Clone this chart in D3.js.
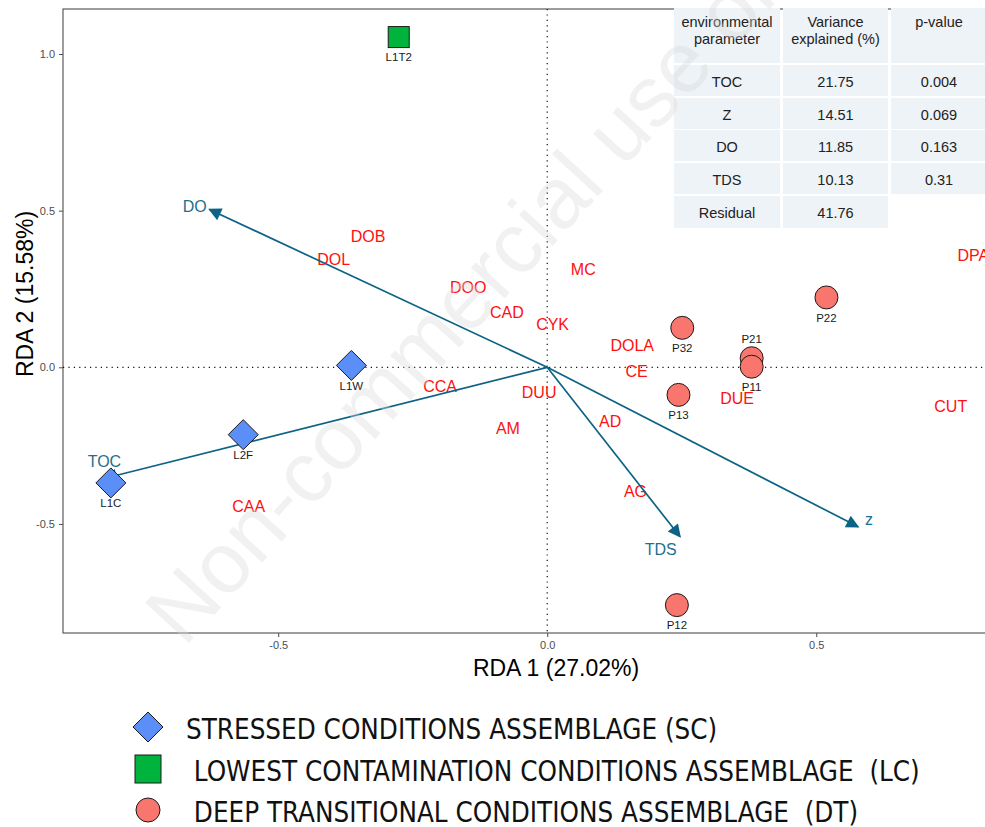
<!DOCTYPE html>
<html>
<head>
<meta charset="utf-8">
<script src="https://cdn.jsdelivr.net/npm/d3@7"></script>
<style>
  body { margin: 0; background: #fff; }
  svg { display: block; }
</style>
</head>
<body>
<div id="chart"></div>
<script>
(function() {

  // site scores (RDA1, RDA2)
  var siteNames  = ["L1T2", "L1W", "L2F", "L1C", "P32", "P22", "P21", "P11", "P13", "P12"];
  var siteGroups = ["LC", "SC", "SC", "SC", "DT", "DT", "DT", "DT", "DT", "DT"];
  var siteX = [-0.276, -0.364, -0.565, -0.811, 0.251, 0.519, 0.380, 0.380, 0.244, 0.241];
  var siteY = [1.054, 0.006, -0.215, -0.369, 0.126, 0.223, 0.029, 0.002, -0.088, -0.759];
  var siteLabelAbove = ["P21"];

  // species scores
  var speciesNames = ["DOB", "DOL", "DOO", "CAD", "CYK", "MC", "DOLA", "CE", "CCA", "DUU",
                      "DUE", "CUT", "AD", "AM", "AG", "CAA", "DPA"];
  var speciesX = [-0.333, -0.397, -0.147, -0.075, 0.010, 0.067, 0.158, 0.166, -0.199, -0.015,
                  0.353, 0.750, 0.117, -0.073, 0.164, -0.555, 0.792];
  var speciesY = [0.417, 0.345, 0.257, 0.177, 0.138, 0.314, 0.069, -0.014, -0.059, -0.081,
                  -0.099, -0.123, -0.171, -0.195, -0.397, -0.445, 0.358];

  // environmental vectors
  var envNames = ["DO", "TOC", "TDS", "z"];
  var envX = [-0.628, -0.822, 0.247, 0.578];
  var envY = [0.504, -0.354, -0.541, -0.509];
  var envLabelX = [-0.655, -0.823, 0.211, 0.598];
  var envLabelY = [0.513, -0.299, -0.581, -0.484];

  // table of explained variance
  var tableHeader = [["environmental", "parameter"], ["Variance", "explained (%)"], ["p-value"]];
  var tableParams = ["TOC", "Z", "DO", "TDS", "Residual"];
  var tableVariance = ["21.75", "14.51", "11.85", "10.13", "41.76"];
  var tablePvalue = ["0.004", "0.069", "0.163", "0.31", ""];

  var xTicks = [-0.5, 0.0, 0.5];
  var yTicks = [-0.5, 0.0, 0.5, 1.0];

  var legendLabels = ["STRESSED CONDITIONS ASSEMBLAGE (SC)",
                      " LOWEST CONTAMINATION CONDITIONS ASSEMBLAGE  (LC)",
                      " DEEP TRANSITIONAL CONDITIONS ASSEMBLAGE  (DT)"];
  var legendGroups = ["SC", "LC", "DT"];

  var fills = { SC: "#5b8ff7", LC: "#00b33c", DT: "#f8766d" };
  var arrowCol = "#0d6385";
  var fontMain = "'Liberation Sans', Arial, Helvetica, sans-serif";

  var W = 985, H = 827;
  var svg = d3.select("#chart").append("svg")
    .attr("width", W).attr("height", H)
    .style("font-family", fontMain);

  var xScale = d3.scaleLinear().domain([-0.9, 0.823]).range([63, 990]);
  var yScale = d3.scaleLinear().domain([-0.848, 1.1436]).range([633, 9]);

  // panel border
  svg.append("rect")
    .attr("x", 63).attr("y", 9)
    .attr("width", 990 - 63).attr("height", 633 - 9)
    .attr("fill", "none").attr("stroke", "#4d4d4d").attr("stroke-width", 1.1);

  // axes (ggplot style hyphen minus)
  var fmt = function(d) { return d3.format(".1f")(d).replace("\u2212", "-"); };
  var xAxis = svg.append("g").attr("transform", "translate(0,633)")
    .call(d3.axisBottom(xScale).tickValues(xTicks).tickSize(4).tickPadding(4).tickFormat(fmt));
  var yAxis = svg.append("g").attr("transform", "translate(63,0)")
    .call(d3.axisLeft(yScale).tickValues(yTicks).tickSize(4).tickPadding(4).tickFormat(fmt));
  [xAxis, yAxis].forEach(function(a) {
    a.select(".domain").remove();
    a.selectAll("line").attr("stroke", "#4d4d4d");
    a.selectAll("text").attr("fill", "#4d4d4d").style("font-size", "11px").style("font-family", fontMain);
  });

  // zero lines
  svg.append("line")
    .attr("x1", 63).attr("x2", 990).attr("y1", yScale(0)).attr("y2", yScale(0))
    .attr("stroke", "#111").attr("stroke-width", 1.2).attr("stroke-dasharray", "1.2,4.2");
  svg.append("line")
    .attr("x1", xScale(0)).attr("x2", xScale(0)).attr("y1", 9).attr("y2", 633)
    .attr("stroke", "#111").attr("stroke-width", 1.2).attr("stroke-dasharray", "1.2,4.2");

  // axis titles
  svg.append("text")
    .attr("x", 556).attr("y", 676)
    .attr("text-anchor", "middle")
    .style("font-size", "23px").attr("fill", "#000")
    .text("RDA 1 (27.02%)");
  svg.append("text")
    .attr("transform", "translate(33,294) rotate(-90)")
    .attr("text-anchor", "middle")
    .style("font-size", "23px").attr("fill", "#000")
    .text("RDA 2 (15.58%)");

  // species labels
  svg.append("g").selectAll("text")
    .data(speciesNames)
    .enter().append("text")
    .attr("x", function(d, i) { return xScale(speciesX[i]); })
    .attr("y", function(d, i) { return yScale(speciesY[i]); })
    .attr("dy", "0.36em")
    .attr("text-anchor", "middle")
    .style("font-size", "16px")
    .attr("fill", "#ff1010")
    .text(function(d) { return d; });

  // arrows
  svg.append("defs").append("marker")
    .attr("id", "head")
    .attr("viewBox", "0 0 10 10")
    .attr("refX", 9).attr("refY", 5)
    .attr("markerUnits", "userSpaceOnUse")
    .attr("markerWidth", 16).attr("markerHeight", 13)
    .attr("orient", "auto")
    .append("path")
    .attr("d", "M0,0 L10,5 L0,10 Z")
    .attr("fill", arrowCol);

  svg.append("g").selectAll("line")
    .data(envNames)
    .enter().append("line")
    .attr("x1", xScale(0)).attr("y1", yScale(0))
    .attr("x2", function(d, i) { return xScale(envX[i]); })
    .attr("y2", function(d, i) { return yScale(envY[i]); })
    .attr("stroke", arrowCol).attr("stroke-width", 1.7)
    .attr("marker-end", "url(#head)");

  svg.append("g").selectAll("text")
    .data(envNames)
    .enter().append("text")
    .attr("x", function(d, i) { return xScale(envLabelX[i]); })
    .attr("y", function(d, i) { return yScale(envLabelY[i]); })
    .attr("dy", "0.36em")
    .attr("text-anchor", "middle")
    .style("font-size", "16px")
    .attr("fill", "#1f6f8f")
    .text(function(d) { return d; });

  // site points
  function drawShape(sel, g) {
    if (g === "SC") {
      sel.append("path").attr("d", "M0,-15 L15,0 L0,15 L-15,0 Z");
    } else if (g === "LC") {
      sel.append("rect").attr("x", -10.5).attr("y", -10.5).attr("width", 21).attr("height", 21);
    } else {
      sel.append("circle").attr("r", 11.5);
    }
    sel.selectAll("*").attr("fill", fills[g]).attr("stroke", "#1a1a1a").attr("stroke-width", 1);
  }

  var pts = svg.append("g").selectAll("g")
    .data(siteNames)
    .enter().append("g")
    .attr("transform", function(d, i) { return "translate(" + xScale(siteX[i]) + "," + yScale(siteY[i]) + ")"; });
  pts.each(function(d, i) { drawShape(d3.select(this), siteGroups[i]); });

  svg.append("g").selectAll("text")
    .data(siteNames)
    .enter().append("text")
    .attr("x", function(d, i) { return xScale(siteX[i]); })
    .attr("y", function(d, i) {
      var off = siteLabelAbove.indexOf(d) >= 0 ? -19 : 20;
      return yScale(siteY[i]) + off;
    })
    .attr("dy", "0.36em")
    .attr("text-anchor", "middle")
    .style("font-size", "11.5px")
    .attr("fill", "#1a1a1a")
    .text(function(d) { return d; });

  // table
  var colX = [674, 783, 891];
  var colW = [106, 105, 100];
  var rowY = [8, 65, 98, 130, 163, 196];
  var rowH = [55, 31, 31, 31, 31, 32];
  var tbl = svg.append("g").style("font-size", "14.5px").attr("fill", "#222");

  var rows = [tableHeader].concat(tableParams.map(function(p, i) {
    return [[p], [tableVariance[i]], [tablePvalue[i]]];
  }));
  rows.forEach(function(row, r) {
    row.forEach(function(cell, c) {
      if (r === rows.length - 1 && c === 2) return;
      tbl.append("rect")
        .attr("x", colX[c]).attr("y", rowY[r])
        .attr("width", colW[c]).attr("height", rowH[r])
        .attr("fill", "#eef3f8");
      var cx = colX[c] + colW[c] / 2 + (c === 2 ? -2 : 0);
      cell.forEach(function(line, k) {
        tbl.append("text")
          .attr("x", cx)
          .attr("y", r === 0 ? 22 + k * 16.5 : rowY[r] + rowH[r] / 2 + 1)
          .attr("dy", "0.36em")
          .attr("text-anchor", "middle")
          .attr("fill", "#222")
          .text(line);
      });
    });
  });

  // legend
  var leg = svg.append("g");
  var legY = [727, 769, 810];
  legendGroups.forEach(function(g, i) {
    var s = leg.append("g").attr("transform", "translate(148," + legY[i] + ")");
    drawShape(s, g);
    if (g === "LC") s.select("rect").attr("x", -13).attr("y", -14).attr("width", 26).attr("height", 28);
    if (g === "DT") s.select("circle").attr("r", 12);
    leg.append("text")
      .attr("x", 186).attr("y", legY[i] + 2)
      .attr("dy", "0.36em")
      .style("font-family", "'DejaVu Sans Condensed', 'DejaVu Sans', sans-serif")
      .style("font-stretch", "condensed")
      .style("font-size", "27.5px")
      .style("white-space", "pre")
      .attr("xml:space", "preserve")
      .attr("fill", "#111")
      .text(legendLabels[i]);
  });

  // watermark
  svg.append("text")
    .attr("transform", "translate(184,648) rotate(-47.5)")
    .style("font-size", "86px")
    .attr("fill", "#d8d8d8")
    .attr("fill-opacity", 0.36)
    .text("Non-commercial use only");

})();
</script>
</body>
</html>
